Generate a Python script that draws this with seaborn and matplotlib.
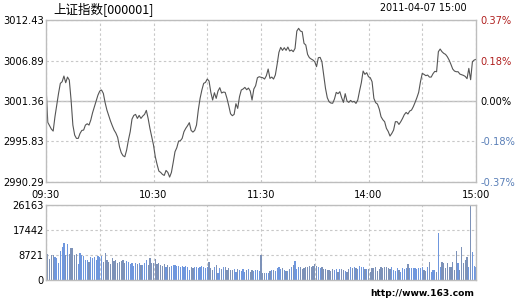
import matplotlib
matplotlib.use("Agg")
import matplotlib.pyplot as plt
import seaborn as sns
import pandas as pd

# ---------------- data ----------------
title_text = "上证指数[000001]"
date_text = "2011-04-07 15:00"
footer_text = "http://www.163.com"
prev_close = 3001.36

price_ticks = [2990.29, 2995.83, 3001.36, 3006.89, 3012.43]
price_tick_labels = ["2990.29", "2995.83", "3001.36", "3006.89", "3012.43"]
pct_tick_labels = ["-0.37%", "-0.18%", "0.00%", "0.18%", "0.37%"]
vol_ticks = [0, 8721, 17442, 26163]
vol_tick_labels = ["0", "8721", "17442", "26163"]
time_ticks = [0, 60, 120, 180, 240]
time_tick_labels = ["09:30", "10:30", "11:30", "14:00", "15:00"]

price = [
    3003.54, 2998.44, 2997.98, 2997.52, 2997.25, 2999.21, 3000.81, 3002.40, 3003.77, 3003.99,
    3004.77, 3003.86, 3004.63, 3004.22, 3001.49, 2998.07, 2996.70, 2996.25, 2996.25, 2996.93,
    2997.34, 2997.39, 2998.07, 2998.25, 2998.07, 2998.76, 2999.76, 3000.58, 3001.35, 3002.17,
    3002.72, 3002.86, 3002.40, 3001.13, 3000.12, 2999.35, 2998.62, 2997.98, 2997.39, 2996.98,
    2996.39, 2995.11, 2994.29, 2993.88, 2993.74, 2994.65, 2996.02, 2997.16, 2998.89, 2999.39,
    2999.53, 2998.98, 2999.39, 2998.98, 2999.30, 2999.53, 3000.08, 2998.98, 2997.62, 2996.48,
    2995.34, 2993.74, 2992.69, 2991.78, 2991.60, 2991.33, 2991.19, 2991.87, 2991.60, 2990.96,
    2991.60, 2992.97, 2994.43, 2994.97, 2995.88, 2995.93, 2996.25, 2997.16, 2997.62, 2997.98,
    2998.40, 2997.34, 2997.11, 2997.34, 2998.07, 3000.12, 3001.72, 3002.86, 3003.77, 3003.90,
    3004.36, 3004.09, 3002.54, 3001.49, 3002.49, 3001.72, 3002.72, 3003.18, 3002.45, 3002.58,
    3002.54, 3001.72, 3000.72, 2999.62, 2999.35, 2999.53, 3000.99, 3000.35, 3001.95, 3002.86,
    3003.00, 3003.22, 3002.90, 3003.13, 3002.72, 3001.49, 3003.00, 3003.45, 3004.54, 3004.68,
    3004.60, 3004.54, 3004.36, 3004.82, 3005.73, 3004.45, 3004.63, 3004.36, 3004.91, 3006.37,
    3008.01, 3008.69, 3008.28, 3008.64, 3008.28, 3008.73, 3008.19, 3008.33, 3008.10, 3008.55,
    3010.92, 3011.29, 3010.92, 3010.83, 3009.24, 3009.01, 3007.73, 3007.28, 3007.10, 3006.96,
    3006.73, 3006.05, 3007.28, 3007.32, 3006.73, 3004.91, 3003.08, 3001.81, 3001.26, 3001.08,
    3001.05, 3001.63, 3002.54, 3002.36, 3002.63, 3001.81, 3001.17, 3002.36, 3001.35, 3001.17,
    3001.44, 3001.22, 3001.31, 3001.03, 3001.49, 3002.72, 3003.86, 3005.45, 3005.00, 3005.23,
    3004.68, 3004.54, 3003.99, 3001.72, 3001.13, 3000.94, 3000.26, 2999.21, 2998.80, 2998.53,
    2997.62, 2997.20, 2996.57, 2996.93, 2997.39, 2998.53, 2998.53, 2998.16, 2998.53, 2998.98,
    2999.50, 2999.80, 2999.58, 2999.99, 3000.12, 3000.58, 3001.17, 3001.81, 3002.54, 3003.99,
    3005.13, 3005.00, 3004.82, 3004.91, 3004.63, 3004.63, 3005.09, 3005.41, 3005.36, 3008.10,
    3008.46, 3008.10, 3007.87, 3007.73, 3007.41, 3006.96, 3006.37, 3005.73, 3005.45, 3005.36,
    3005.36, 3005.04, 3004.95, 3004.86, 3004.72, 3004.41, 3005.82, 3004.27, 3006.73, 3006.96,
    3007.05,
]

volume = [
    26163, 8952, 7208, 8719, 8719, 8138, 7557, 6045, 10115, 11394,
    13022, 8719, 12557, 9068, 11045, 11045, 8719, 8952, 5580, 9533,
    8719, 8371, 6975, 6975, 6394, 8138, 7790, 8138, 6975, 8371,
    8138, 8487, 6394, 9533, 6975, 6394, 5580, 7557, 6743, 6975,
    5813, 6394, 6627, 6975, 5813, 6627, 6394, 5580, 6045, 4883,
    5813, 5580, 5813, 5231, 5231, 6045, 6975, 5231, 7557, 5813,
    6045, 7325, 5580, 6045, 5231, 4883, 5464, 4650, 5115, 4650,
    4883, 5231, 5231, 4999, 4883, 4650, 4883, 4418, 4883, 4418,
    3488, 4418, 4069, 4418, 4650, 4069, 4418, 4883, 4650, 4069,
    4650, 6394, 4069, 3488, 4418, 5231, 2557, 4069, 3720, 4418,
    4650, 3488, 4069, 3488, 3488, 3720, 2906, 3720, 3488, 3255,
    3720, 2906, 3488, 3720, 2906, 3488, 3255, 3488, 3488, 3255,
    8719, 2557, 2325, 2557, 2557, 3255, 3488, 3488, 3255, 4069,
    4650, 3720, 4069, 3488, 3255, 3255, 3720, 4650, 5231, 6743,
    3720, 4418, 4418, 3720, 4069, 4418, 4418, 4883, 4418, 4883,
    5580, 4883, 4418, 4069, 4418, 3720, 3720, 3488, 3488, 3255,
    3720, 3488, 3720, 2906, 3720, 3720, 3488, 3255, 2906, 3720,
    4418, 4069, 4418, 4069, 3720, 4883, 4418, 4418, 3720, 3952,
    3952, 2906, 4069, 4069, 4418, 3255, 3720, 4418, 4069, 4418,
    4418, 4069, 3720, 4418, 3488, 3255, 4069, 3488, 2906, 4069,
    3720, 4069, 5580, 4069, 4069, 4069, 4069, 3720, 4069, 4069,
    4418, 3488, 3255, 4650, 6394, 2906, 3488, 3488, 2906, 16510,
    4650, 6394, 5813, 4069, 5813, 4418, 4650, 6394, 3488, 10115,
    5813, 3488, 11626, 6045, 7000, 8138, 4418, 26163, 9882, 5000,
    4650,
]

# ---------------- figure ----------------
W, H = 520, 300
fig = plt.figure(figsize=(W / 100, H / 100), dpi=100)
fig.patch.set_facecolor("white")

FRAME = "#bdbdbd"
GRID = "#c8c8c8"
DASH = (0, (2.2, 2.2))
FS = 7.1

ax = fig.add_axes([46 / W, 1 - 182 / H, 430 / W, 162 / H])
axv = fig.add_axes([46 / W, 1 - 280 / H, 430 / W, 75 / H])

minute = list(range(len(price)))
df = pd.DataFrame({"minute": minute, "price": price, "volume": volume})
df["dir"] = ["up" if i == 0 or price[i] >= price[i - 1] else "down" for i in range(len(price))]

# price line
sns.lineplot(data=df, x="minute", y="price", ax=ax, color="#555555", linewidth=0.8)
ax.set_xlim(0, 240)
ax.set_ylim(price_ticks[0], price_ticks[-1])
ax.set_xticks(list(range(0, 241, 30)))
ax.set_xticklabels([time_tick_labels[time_ticks.index(t)] if t in time_ticks else "" for t in range(0, 241, 30)])
ax.set_yticks(price_ticks)
ax.set_yticklabels(price_tick_labels)
ax.set_xlabel("")
ax.set_ylabel("")
ax.grid(True, color=GRID, linestyle=DASH, linewidth=0.8)
ax.axhline(prev_close, color=FRAME, linewidth=1.0, zorder=1.5)
ax.tick_params(axis="y", length=0, labelsize=FS, pad=1.5)
ax.tick_params(axis="x", length=0, labelsize=FS, pad=5.5)
for s in ax.spines.values():
    s.set_color(FRAME)
    s.set_linewidth(1.0)

axr = ax.twinx()
axr.set_ylim(price_ticks[0], price_ticks[-1])
axr.set_yticks(price_ticks)
axr.set_yticklabels(pct_tick_labels)
axr.tick_params(axis="y", length=0, labelsize=FS, pad=3)
for lab, txt in zip(axr.get_yticklabels(), pct_tick_labels):
    if txt.startswith("-"):
        lab.set_color("#5b80b8")
    elif txt == "0.00%":
        lab.set_color("black")
    else:
        lab.set_color("#b0201f")
for s in axr.spines.values():
    s.set_visible(False)

# volume bars
sns.barplot(data=df, x="minute", y="volume", hue="dir", ax=axv, native_scale=True,
            dodge=False, width=0.68, palette={"up": "#6f97de", "down": "#7d92b8"},
            saturation=1, errorbar=None, legend=False, linewidth=0)
axv.set_xlim(0, 240)
axv.set_ylim(0, vol_ticks[-1])
axv.set_xticks(list(range(0, 241, 30)))
axv.set_xticklabels([])
axv.set_yticks(vol_ticks)
axv.set_yticklabels(vol_tick_labels)
axv.set_xlabel("")
axv.set_ylabel("")
axv.grid(True, color=GRID, linestyle=DASH, linewidth=0.8)
axv.set_axisbelow(True)
axv.tick_params(length=0, labelsize=FS, pad=1.5)
for s in axv.spines.values():
    s.set_color(FRAME)
    s.set_linewidth(1.0)

# texts
fig.text(53 / W, 1 - 10 / H, title_text, fontsize=9, va="center", ha="left",
         family=["Noto Sans CJK SC", "DejaVu Sans"])
fig.text(467 / W, 1 - 8 / H, date_text, fontsize=6.9, va="center", ha="right")
fig.text(474 / W, 1 - 294 / H, footer_text, fontsize=6.6, va="center", ha="right",
         fontweight="bold")

fig.savefig("out.png", dpi=100)
